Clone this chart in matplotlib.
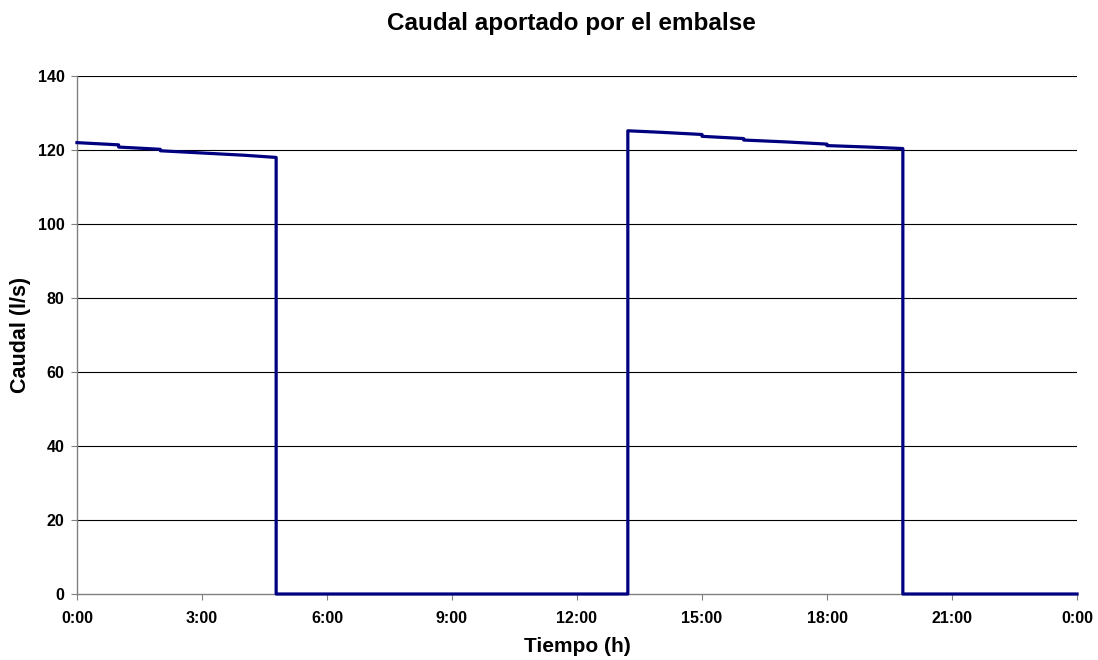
import matplotlib
matplotlib.use("Agg")
import matplotlib.pyplot as plt

# time in hours, flow in l/s (duplicate times give the vertical steps)
tiempo_h = [0, 1, 1, 2, 2, 3, 4, 4.78, 4.78, 13.22, 13.22, 14, 15, 15, 16, 16, 17, 18, 18, 19, 19.82, 19.82, 24]
caudal = [122.0, 121.4, 120.8, 120.2, 119.8, 119.2, 118.6, 118.0, 0, 0, 125.2, 124.8, 124.2, 123.7,
          123.1, 122.7, 122.2, 121.6, 121.2, 120.8, 120.4, 0, 0]

x_ticks = [0, 3, 6, 9, 12, 15, 18, 21, 24]
x_labels = ["0:00", "3:00", "6:00", "9:00", "12:00", "15:00", "18:00", "21:00", "0:00"]
y_ticks = [0, 20, 40, 60, 80, 100, 120, 140]

plt.rcParams["font.family"] = ["Liberation Sans", "DejaVu Sans"]
plt.rcParams["font.weight"] = "bold"

fig = plt.figure(figsize=(10.98, 6.6), dpi=100)
ax = fig.add_axes([0.0701, 0.1, 0.9108, 0.7848])

for y in y_ticks[1:]:
    ax.axhline(y, color="black", linewidth=0.8, zorder=1)

ax.plot(tiempo_h, caudal, color="#000080", linewidth=2.3, zorder=3, clip_on=False)

ax.set_xlim(0, 24)
ax.set_ylim(0, 140)
ax.set_xticks(x_ticks)
ax.set_xticklabels(x_labels)
ax.set_yticks(y_ticks)
ax.tick_params(axis="both", labelsize=11.5, length=4, width=0.8, color="#808080", direction="out")
for lab in ax.get_xticklabels() + ax.get_yticklabels():
    lab.set_fontweight("bold")
ax.tick_params(axis="x", pad=8)
ax.tick_params(axis="y", pad=5)

for side in ["top", "right"]:
    ax.spines[side].set_visible(False)
for side in ["left", "bottom"]:
    ax.spines[side].set_color("#808080")
    ax.spines[side].set_linewidth(1.0)

ax.set_xlabel("Tiempo (h)", fontsize=15, fontweight="bold", va="center")
ax.set_ylabel("Caudal (l/s)", fontsize=15.5, fontweight="bold", va="center")
ax.xaxis.set_label_coords(0.5, -0.102)
ax.yaxis.set_label_coords(-0.056, 0.5)
fig.text(0.52, 0.965, "Caudal aportado por el embalse", fontsize=17.5, fontweight="bold",
         ha="center", va="center")

fig.savefig("out.png", dpi=100)
